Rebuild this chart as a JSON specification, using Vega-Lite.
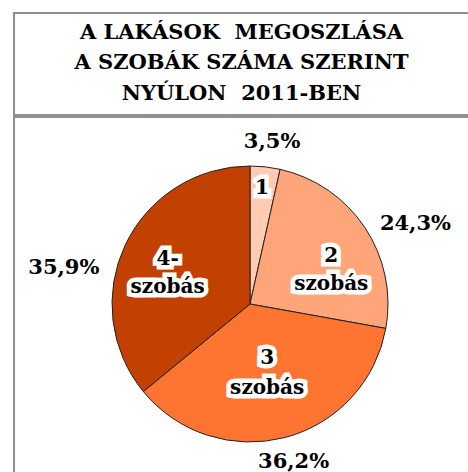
{
  "$schema": "https://vega.github.io/schema/vega-lite/v6.json",
  "background": "white",
  "padding": {"left": 13, "top": 12, "right": 0, "bottom": 0},
  "spacing": 0,
  "config": {"text": {"font": "DejaVu Serif", "fontWeight": "bold"}},
  "datasets": {
    "pie": [
      {"kat": "1", "label": "1", "share": 3.5, "pct": "3,5%"},
      {"kat": "2", "label": "2\nszobás", "share": 24.3, "pct": "24,3%"},
      {"kat": "3", "label": "3\nszobás", "share": 36.2, "pct": "36,2%"},
      {"kat": "4", "label": "4-\nszobás", "share": 35.9, "pct": "35,9%"}
    ]
  },
  "vconcat": [
    {
      "width": 472,
      "height": 102,
      "view": {"stroke": "#8f8f8f", "strokeWidth": 2},
      "data": {"values": [{"title": "A LAKÁSOK\u00a0 MEGOSZLÁSA\nA SZOBÁK SZÁMA SZERINT\nNYÚLON\u00a0 2011-BEN\u00a0\u00a0\u00a0\u00a0\u00a0\u00a0"}]},
      "mark": {"type": "text", "font": "DejaVu Serif", "fontWeight": "bold", "fontSize": 21, "lineBreak": "\n", "lineHeight": 30.5, "align": "center", "baseline": "middle", "dx": -8.5, "dy": -31.5, "color": "black"},
      "encoding": {"text": {"field": "title"}}
    },
    {
      "width": 472,
      "height": 374,
      "view": {"stroke": "#8f8f8f", "strokeWidth": 2},
      "data": {"name": "pie"},
      "encoding": {
        "theta": {"field": "share", "type": "quantitative", "stack": true},
        "order": {"field": "kat", "type": "nominal"},
        "detail": {"field": "kat", "type": "nominal"}
      },
      "layer": [
        {
          "mark": {"type": "arc", "outerRadius": 138, "stroke": "#222222", "strokeWidth": 1},
          "encoding": {
            "color": {"field": "kat", "type": "nominal", "legend": null,
              "scale": {"domain": ["1", "2", "3", "4"], "range": ["#FFCBB2", "#FFA57A", "#FF7430", "#C24000"]}}
          }
        },
        {
          "mark": {"type": "text", "radius": 100, "dx": 1, "dy": -17, "font": "DejaVu Serif", "fontWeight": "bold", "fontSize": 20, "lineBreak": "\n", "lineHeight": 28, "baseline": "middle", "align": "center", "fill": "white", "stroke": "white", "strokeWidth": 9, "strokeJoin": "miter", "strokeMiterLimit": 2},
          "encoding": {"text": {"condition": {"test": "datum.kat === '1'", "field": "label"}, "value": ""}}
        },
        {
          "mark": {"type": "text", "radius": 100, "dx": 1, "dy": -17, "font": "DejaVu Serif", "fontWeight": "bold", "fontSize": 20, "lineBreak": "\n", "lineHeight": 28, "baseline": "middle", "align": "center", "color": "black"},
          "encoding": {"text": {"condition": {"test": "datum.kat === '1'", "field": "label"}, "value": ""}}
        },
        {
          "mark": {"type": "text", "radius": 100, "dx": -2, "dy": 7, "font": "DejaVu Serif", "fontWeight": "bold", "fontSize": 20, "lineBreak": "\n", "lineHeight": 28, "baseline": "middle", "align": "center", "fill": "white", "stroke": "white", "strokeWidth": 9, "strokeJoin": "miter", "strokeMiterLimit": 2},
          "encoding": {"text": {"condition": {"test": "datum.kat === '2'", "field": "label"}, "value": ""}}
        },
        {
          "mark": {"type": "text", "radius": 100, "dx": -2, "dy": 7, "font": "DejaVu Serif", "fontWeight": "bold", "fontSize": 20, "lineBreak": "\n", "lineHeight": 28, "baseline": "middle", "align": "center", "color": "black"},
          "encoding": {"text": {"condition": {"test": "datum.kat === '2'", "field": "label"}, "value": ""}}
        },
        {
          "mark": {"type": "text", "radius": 100, "dx": -8, "dy": -43, "font": "DejaVu Serif", "fontWeight": "bold", "fontSize": 20, "lineBreak": "\n", "lineHeight": 30, "baseline": "middle", "align": "center", "fill": "white", "stroke": "white", "strokeWidth": 9, "strokeJoin": "miter", "strokeMiterLimit": 2},
          "encoding": {"text": {"condition": {"test": "datum.kat === '3'", "field": "label"}, "value": ""}}
        },
        {
          "mark": {"type": "text", "radius": 100, "dx": -8, "dy": -43, "font": "DejaVu Serif", "fontWeight": "bold", "fontSize": 20, "lineBreak": "\n", "lineHeight": 30, "baseline": "middle", "align": "center", "color": "black"},
          "encoding": {"text": {"condition": {"test": "datum.kat === '3'", "field": "label"}, "value": ""}}
        },
        {
          "mark": {"type": "text", "radius": 100, "dx": 8, "dy": -2, "font": "DejaVu Serif", "fontWeight": "bold", "fontSize": 20, "lineBreak": "\n", "lineHeight": 28, "baseline": "middle", "align": "center", "fill": "white", "stroke": "white", "strokeWidth": 9, "strokeJoin": "miter", "strokeMiterLimit": 2},
          "encoding": {"text": {"condition": {"test": "datum.kat === '4'", "field": "label"}, "value": ""}}
        },
        {
          "mark": {"type": "text", "radius": 100, "dx": 8, "dy": -2, "font": "DejaVu Serif", "fontWeight": "bold", "fontSize": 20, "lineBreak": "\n", "lineHeight": 28, "baseline": "middle", "align": "center", "color": "black"},
          "encoding": {"text": {"condition": {"test": "datum.kat === '4'", "field": "label"}, "value": ""}}
        },
        {
          "mark": {"type": "text", "radius": 165, "dx": 4, "dy": 2, "font": "DejaVu Serif", "fontWeight": "bold", "fontSize": 21, "baseline": "middle", "align": "center", "color": "black"},
          "encoding": {"text": {"condition": {"test": "datum.kat === '1'", "field": "pct"}, "value": ""}}
        },
        {
          "mark": {"type": "text", "radius": 165, "dx": 28, "dy": 11, "font": "DejaVu Serif", "fontWeight": "bold", "fontSize": 21, "baseline": "middle", "align": "center", "color": "black"},
          "encoding": {"text": {"condition": {"test": "datum.kat === '2'", "field": "pct"}, "value": ""}}
        },
        {
          "mark": {"type": "text", "radius": 165, "dx": 2, "dy": -2, "font": "DejaVu Serif", "fontWeight": "bold", "fontSize": 21, "baseline": "middle", "align": "center", "color": "black"},
          "encoding": {"text": {"condition": {"test": "datum.kat === '3'", "field": "pct"}, "value": ""}}
        },
        {
          "mark": {"type": "text", "radius": 165, "dx": -37, "dy": 35, "font": "DejaVu Serif", "fontWeight": "bold", "fontSize": 21, "baseline": "middle", "align": "center", "color": "black"},
          "encoding": {"text": {"condition": {"test": "datum.kat === '4'", "field": "pct"}, "value": ""}}
        }
      ]
    }
  ]
}
